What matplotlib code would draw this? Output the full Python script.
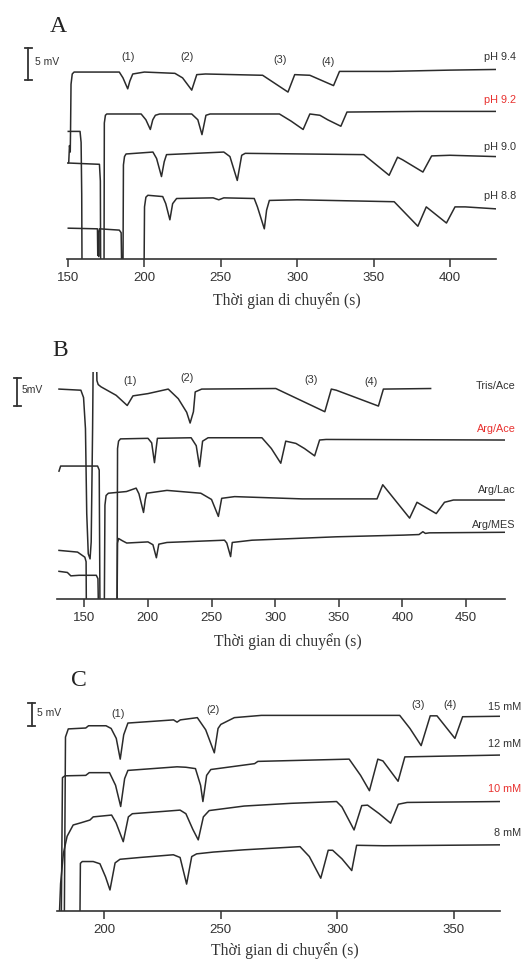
import matplotlib
matplotlib.use("Agg")
import matplotlib.pyplot as plt

# ---------------- data (time in s, signal in mV) ----------------
# Panel A: pH of the buffer
A_t_94 = [150.0, 150.5, 151.0, 151.5, 151.7, 152.0, 152.8, 154, 183.6, 186, 189.1, 190.5, 192.4, 200, 220.0, 225, 231.0,
          234.3, 240, 277.4, 294.0, 298.4, 308.3, 323.8, 327.7, 360, 400, 429.8]
A_s_94 = [14.8, 14.9, 17.5, 16.5, 20.0, 27.0, 28.6, 28.9, 28.9, 28.0, 26.3, 27.5, 28.6, 28.9, 28.7, 28.0, 26.1,
          28.5, 28.6, 28.4, 25.8, 28.5, 28.4, 26.8, 29.0, 29.0, 29.2, 29.3]
A_t_92 = [150.2, 170.6, 171.2, 171.4, 173.6, 173.8, 174.5, 175.4, 197.9, 201, 203.9, 205.5, 207.2, 210, 231.0, 235,
          237.7, 240.3, 243, 288.4, 296, 303.9, 308.3, 314.9, 320, 328.6, 332.6, 380, 429.8]
A_s_92 = [14.8, 14.6, 12.0, -2, -2, 21.0, 22.2, 22.4, 22.4, 21.5, 20.0, 21.5, 22.2, 22.4, 22.4, 21.5,
          19.2, 22.2, 22.4, 22.4, 21.3, 20.0, 22.4, 22.2, 21.5, 20.5, 22.7, 22.8, 22.8]
A_t_90 = [150.2, 169.3, 169.5, 169.8, 170.1, 170.4, 170.6, 183.6, 184.8, 185.2, 186.0, 186.3, 187.0, 188.0, 205.6,
          208, 211.2, 213, 214.5, 252.0, 256, 260.8, 263.7, 266, 343.6, 360.2, 365.7, 369.0, 382.3, 388.0, 400, 429.8]
A_s_90 = [4.7, 4.6, 0.5, 4.2, 0.3, 4.0, 4.6, 4.4, 4.0, -2, -2, 14.5, 15.8, 16.2, 16.5,
          15.5, 12.7, 15.0, 16.1, 16.5, 15.8, 12.1, 16.0, 16.3, 16.1, 12.9, 15.7, 15.3, 13.4, 15.9, 16.0, 15.8]
A_t_88 = [150.2, 157.9, 158.6, 159.0, 159.2, 199.8, 200.1, 201.0, 202.3, 212, 214, 216.7, 218.5, 221.1, 245, 248.7,
          252, 271.9, 274, 278.5, 280, 281.8, 300, 363.5, 379.0, 384.5, 397.7, 403.3, 410, 429.8]
A_s_88 = [19.7, 19.7, 18.0, 10.0, -2, -2, 8.0, 9.5, 9.8, 9.6, 8.5, 6.0, 8.5, 9.3, 9.4, 9.1,
          9.4, 9.3, 8.0, 4.6, 7.5, 9.0, 9.1, 8.8, 5.0, 8.0, 5.5, 8.0, 8.0, 7.7]
A_names = ["pH 9.4", "pH 9.2", "pH 9.0", "pH 8.8"]
A_name_y = [31.3, 24.6, 17.3, 9.7]
A_peak_t = [189.5, 227.7, 288.8, 320.4]
A_peak_y = [31.3, 31.3, 30.8, 30.5]

# Panel B: buffer composition
B_t_tris = [130.2, 147.4, 149.5, 151.0, 152, 153.2, 154.6, 155.5, 156.6, 157.2, 159.5, 160.0, 161.0, 163.2, 175.1,
            183.8, 188.3, 200.1, 216.0, 223.9, 230.5, 233.2, 235.8, 237.2, 242.3, 300.5, 339, 344.1, 348.0, 381.1,
            385.0, 422.1]
B_s_tris = [37.0, 36.8, 35.5, 30, 15, 7.9, 7.0, 10, 30, 45, 45, 38.5, 37.8, 37.4, 35.9,
            34.1, 35.8, 36.2, 37.0, 35.3, 32.9, 31.0, 33.0, 36.5, 37.0, 37.1, 33.0, 37.0, 36.8, 34.0,
            37.0, 37.1]
B_t_ace = [130.2, 131.5, 160.5, 161.8, 162.4, 175.8, 176.2, 177.0, 178.5, 200.1, 203, 205.2, 206.5, 207.5, 234.0,
           238, 240.6, 243.0, 247.3, 289.6, 297, 304.4, 308.3, 316.3, 323, 331, 334.9, 340, 480.5]
B_s_ace = [22.5, 23.4, 23.4, 22.7, -2, -2, 26.5, 27.8, 28.2, 28.3, 27.5, 24.0, 26.5, 28.3, 28.4,
           27.0, 23.3, 27.8, 28.4, 28.4, 26.5, 23.9, 27.8, 27.4, 26.5, 25.2, 28.0, 28.1, 28.0]
B_t_lac = [130.2, 144.8, 150.5, 151.5, 151.7, 165.8, 166.3, 167.2, 169, 183.2, 190.8, 193, 196.6, 198, 199.1, 215.0,
           241.6, 250, 255.4, 258.0, 268.1, 321.2, 380, 384.5, 405.6, 411.4, 426.5, 433, 440, 480.5]
B_s_lac = [8.5, 8.2, 7.3, 6.5, -2, -2, 16.5, 18.2, 18.6, 18.9, 19.5, 18.5, 15.2, 17.5, 18.6, 19.1,
           18.6, 17.5, 14.5, 17.7, 18.0, 17.6, 17.6, 20.1, 14.2, 17.0, 15.0, 17.0, 17.4, 17.4]
B_t_mes = [130.2, 136.8, 139.5, 146, 159.5, 160.8, 161.2, 175.8, 176.2, 177.0, 180, 183.4, 200.1, 204, 206.7, 208.6,
           215, 260.2, 262, 265, 266.3, 281.8, 348, 401, 413, 416, 418, 421, 480.5]
B_s_mes = [4.8, 4.6, 4.0, 4.1, 4.1, 3.5, -2, -2, 9.8, 10.6, 10.2, 9.8, 10.0, 9.5, 7.2, 9.6,
           9.9, 10.3, 9.8, 7.4, 9.9, 10.3, 10.9, 11.2, 11.3, 11.8, 11.5, 11.6, 11.7]
B_names = ["Tris/Ace", "Arg/Ace", "Arg/Lac", "Arg/MES"]
B_name_y = [37.5, 29.9, 19.2, 13.0]
B_peak_t = [186, 230.5, 328.2, 375]
B_peak_y = [38.5, 38.9, 38.6, 38.2]

# Panel C: buffer concentration
C_t_15 = [182.8, 183.3, 184.5, 192, 193.2, 200.7, 202.9, 205.1, 206.8, 208.3, 210.1, 229.7, 231.2, 232.6, 239.9,
          243.5, 247.2, 248.8, 250, 255.8, 267.4, 326.8, 331.2, 336, 339.9, 342.8, 350.5, 353.8, 369.6]
C_s_15 = [-2, 38.5, 40.3, 40.5, 41.0, 41.0, 40.4, 38.2, 33.6, 39.0, 41.6, 42.3, 41.8, 42.3, 42.8,
          40.1, 35.0, 40.4, 41.3, 42.8, 43.3, 43.3, 40.4, 36.6, 43.2, 43.2, 38.2, 43.0, 43.1]
C_t_12 = [181.5, 182.0, 183.1, 192, 193.5, 202.2, 204.8, 207, 208.7, 210.1, 231.2, 235, 239.1, 241.3, 242.3, 243.9,
          245.7, 264.5, 265.9, 305.1, 310, 313.8, 317.4, 319.6, 326.1, 329, 369.6]
C_s_12 = [-2, 29.5, 29.9, 30.0, 30.6, 30.6, 27.8, 23.1, 29.3, 31.1, 31.9, 31.8, 31.5, 27.8, 24.2, 30.0,
          31.3, 32.6, 33.1, 33.6, 30.0, 26.6, 33.6, 33.2, 28.7, 34.1, 34.5]
C_t_10 = [180.6, 181.2, 182.4, 184, 186.6, 190, 193.8, 195.2, 203.1, 205, 208.1, 210.3, 212, 225, 232.5, 235, 238,
          240.3, 242.5, 245, 260, 280, 299.7, 302, 307.2, 310.5, 313, 318, 322.9, 326.2, 330, 369.9]
C_s_10 = [-2, 6, 12.7, 16.5, 19.0, 19.5, 20.1, 20.8, 21.2, 19.5, 15.3, 20.8, 21.5, 22.0, 22.3, 21.5, 18,
          15.7, 20.8, 22.2, 23.2, 23.8, 24.2, 23.0, 17.9, 23.3, 23.4, 21.5, 19.4, 23.6, 24.0, 24.2]
C_t_8 = [189.5, 189.7, 190.5, 195.2, 198.1, 200.5, 202.4, 204.6, 206.7, 215.3, 229.6, 232.5, 235.3, 237.5, 239.6,
         246.8, 260, 284, 288, 292.9, 296.1, 298, 302, 306.2, 308.3, 320, 369.9]
C_s_8 = [-2, 10.5, 10.9, 10.9, 10.4, 7.5, 4.6, 10.6, 11.4, 11.8, 12.4, 11.8, 5.9, 12.0, 12.6,
         13.0, 13.5, 14.2, 12.0, 7.2, 13.4, 13.4, 11.5, 8.9, 14.5, 14.4, 14.6]
C_names = ["15 mM", "12 mM", "10 mM", "8 mM"]
C_name_y = [45.1, 36.9, 27.0, 17.3]
C_peak_t = [205.8, 246.8, 334.8, 348.6]
C_peak_y = [43.6, 44.6, 45.7, 45.7]

W, H = 529, 965
fig = plt.figure(figsize=(W / 100, H / 100), dpi=100)

line_c = "#2b2b2b"
red = "#e8312f"
sans = "Liberation Sans"
serif = "Liberation Serif"


def add_axes(l, r, b, t):
    # pixel box -> figure fraction
    return fig.add_axes([l / W, 1 - b / H, (r - l) / W, (b - t) / H])


def style(ax, xlim, ylim, ticks):
    ax.set_xlim(*xlim)
    ax.set_ylim(*ylim)
    for s in ["left", "right", "top"]:
        ax.spines[s].set_visible(False)
    ax.spines["bottom"].set_linewidth(1.2)
    ax.spines["bottom"].set_color("#333333")
    ax.set_yticks([])
    ax.set_xticks(ticks)
    ax.tick_params(axis="x", direction="out", length=6, width=1.1, pad=3.5, colors="#333333",
                   labelsize=9.5)
    for lab in ax.get_xticklabels():
        lab.set_family(sans)


def scale_bar(ax, x, y0, y1, dx, label, lx):
    ax.plot([x, x], [y0, y1], color="#333333", lw=1.3, clip_on=False)
    ax.plot([x - dx, x + dx], [y0, y0], color="#333333", lw=1.3, clip_on=False)
    ax.plot([x - dx, x + dx], [y1, y1], color="#333333", lw=1.3, clip_on=False)
    ax.text(lx, (y0 + y1) / 2 + 0.4, label, fontsize=7.5, family=sans, va="center", ha="left", color="#333333")


def labels(ax, names, ys, xr, pts, pys, red_i):
    for i, (n, y) in enumerate(zip(names, ys)):
        ax.text(xr, y, n, fontsize=7.8, family=sans, ha="right", va="center",
                color=red if i == red_i else "#333333", clip_on=False)
    for k, (x, y) in enumerate(zip(pts, pys)):
        ax.text(x, y, "(%d)" % (k + 1), fontsize=7.8, family=sans, ha="center", va="center",
                color="#333333", clip_on=False)


# ---- Panel A ----
axA = add_axes(67.2, 495.8, 258.5, 45.6)
for t, s in [(A_t_94, A_s_94), (A_t_92, A_s_92), (A_t_90, A_s_90), (A_t_88, A_s_88)]:
    axA.plot(t, s, color=line_c, lw=1.1)
style(axA, (149.5, 430), (0, 33), [150, 200, 250, 300, 350, 400])
scale_bar(axA, 124.0, 27.6, 32.6, 2.4, "5 mV", 128.4)
labels(axA, A_names, A_name_y, 443.2, A_peak_t, A_peak_y, 1)

# ---- Panel B ----
axB = add_axes(57.2, 505.1, 598.5, 372.1)
for t, s in [(B_t_tris, B_s_tris), (B_t_ace, B_s_ace), (B_t_lac, B_s_lac), (B_t_mes, B_s_mes)]:
    axB.plot(t, s, color=line_c, lw=1.1)
style(axB, (128.8, 480.6), (0, 40), [150, 200, 250, 300, 350, 400, 450])
scale_bar(axB, 97.6, 34.0, 39.0, 2.8, "5mV", 100.8)
labels(axB, B_names, B_name_y, 489.0, B_peak_t, B_peak_y, 1)

# ---- Panel C ----
axC = add_axes(57.1, 500.1, 910.7, 703.2)
for t, s in [(C_t_15, C_s_15), (C_t_12, C_s_12), (C_t_10, C_s_10), (C_t_8, C_s_8)]:
    axC.plot(t, s, color=line_c, lw=1.1)
style(axC, (179.7, 369.9), (0, 46), [200, 250, 300, 350])
scale_bar(axC, 168.8, 41.0, 46.0, 1.4, "5 mV", 171.0)
labels(axC, C_names, C_name_y, 379.0, C_peak_t, C_peak_y, 2)

# x labels and panel letters
xlab = "Thời gian di chuyển (s)"
for (x, y) in [(287, 301), (288, 642), (285, 951)]:
    fig.text(x / W, 1 - y / H, xlab, ha="center", va="center", fontsize=11.3, family=serif, color="#333333")
for (x, y, s) in [(58, 26, "A"), (60, 350, "B"), (79, 681, "C")]:
    fig.text(x / W, 1 - y / H, s, ha="center", va="center", fontsize=17, family=serif, color="#222222")

fig.savefig("out.png", dpi=100)
